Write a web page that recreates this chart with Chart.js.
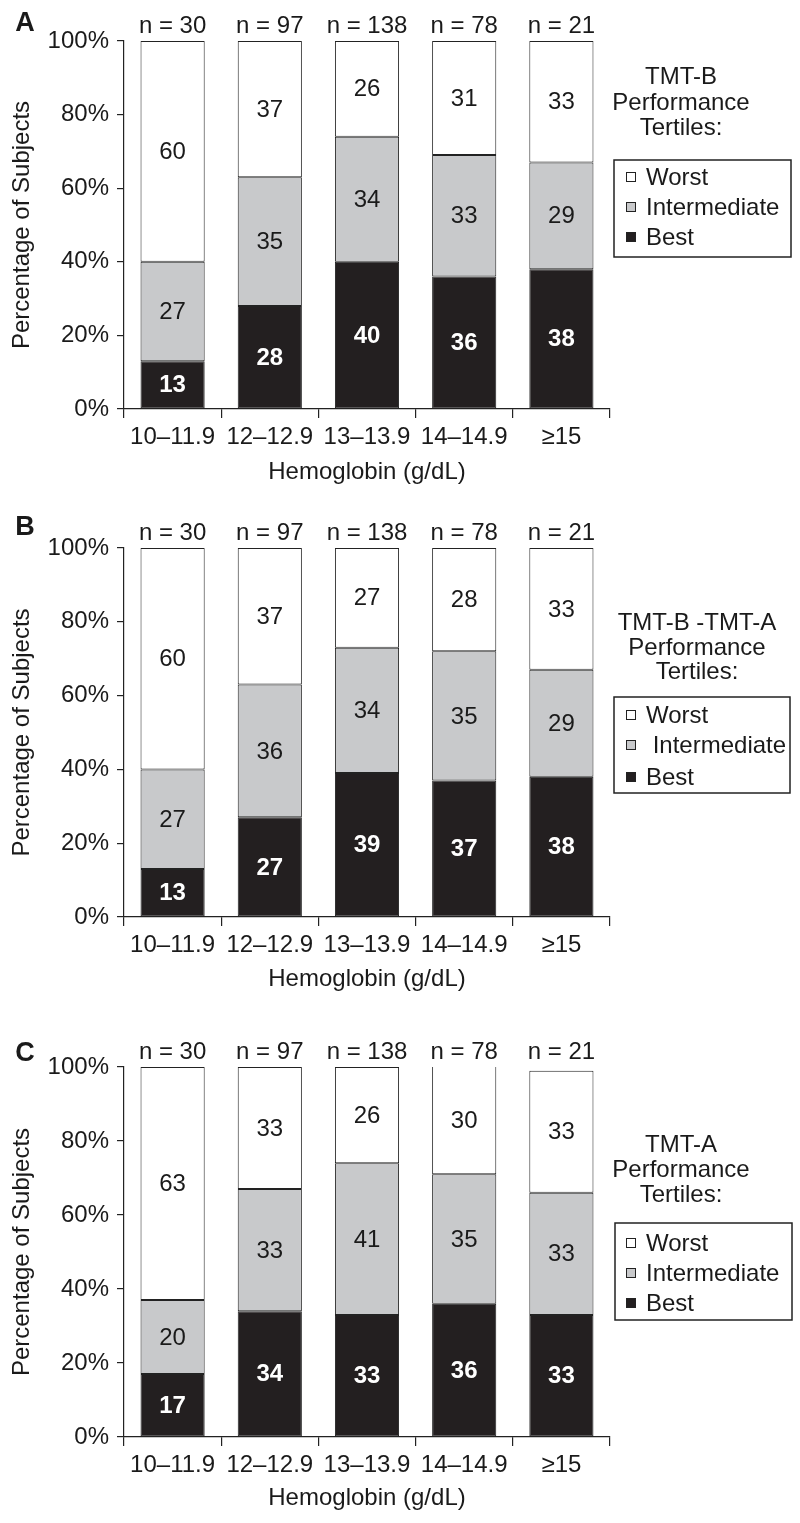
<!DOCTYPE html>
<html>
<head>
<meta charset="utf-8">
<script src="https://cdn.jsdelivr.net/npm/chart.js@4/dist/chart.umd.min.js"></script>
<style>
html, body { margin: 0; padding: 0; background: #fff; overflow: hidden; }
#wrap { position: relative; width: 800px; height: 1523px; }
canvas { position: absolute; left: 0; }
</style>
</head>
<body>
<div id="wrap">
  <canvas id="cA" width="800" height="507" style="top:0px"></canvas>
  <canvas id="cB" width="800" height="507" style="top:507px"></canvas>
  <canvas id="cC" width="800" height="507" style="top:1026px"></canvas>
</div>
<script>
// categories / sample sizes shared by all three panels
var categories = ['10\u201311.9', '12\u201312.9', '13\u201313.9', '14\u201314.9', '\u226515'];
var sampleSizes = [30, 97, 138, 78, 21];
var yTicks = [0, 20, 40, 60, 80, 100];

// panel A - TMT-B
var bestA = [13, 28, 40, 36, 38];
var interA = [27, 35, 34, 33, 29];
var worstA = [60, 37, 26, 31, 33];

// panel B - TMT-B minus TMT-A
var bestB = [13, 27, 39, 37, 38];
var interB = [27, 36, 34, 35, 29];
var worstB = [60, 37, 27, 28, 33];

// panel C - TMT-A
var bestC = [17, 34, 33, 36, 33];
var interC = [20, 33, 41, 35, 33];
var worstC = [63, 33, 26, 30, 33];

var FONT = '"Liberation Sans", Arial, Helvetica, sans-serif';
var INK = '#1a1a1a';
Chart.defaults.font.family = FONT;
Chart.defaults.font.size = 24;
Chart.defaults.color = INK;

var COL_WORST = '#ffffff', COL_INTER = '#c8c9cb', COL_BEST = '#231f20';

// draws panel letter, n = labels, numbers in bars and the boxed legend
var panelDecor = {
    id: 'panelDecor',
    afterDraw: function (chart) {
        var o = chart.options.plugins.panelDecor;
        var ctx = chart.ctx;
        var xs = chart.scales.x;
        var area = chart.chartArea;
        ctx.save();
        ctx.textAlign = 'center';
        ctx.textBaseline = 'middle';

        ctx.fillStyle = INK;
        ctx.font = 'bold 27px ' + FONT;
        ctx.fillText(o.letter, 25, o.letterY);

        ctx.font = '24px ' + FONT;
        sampleSizes.forEach(function (n, i) {
            ctx.fillText('n = ' + n, xs.getPixelForValue(i), 26);
        });

        chart.data.datasets.forEach(function (ds, di) {
            var meta = chart.getDatasetMeta(di);
            meta.data.forEach(function (bar, i) {
                var top = Math.max(bar.y, area.top);
                var mid = (top + bar.base) / 2;
                ctx.font = (ds.labelBold ? 'bold ' : '') + '24px ' + FONT;
                ctx.fillStyle = ds.labelColor;
                ctx.fillText(String(ds.data[i]), bar.x, mid + 1);
            });
        });

        // legend title
        ctx.fillStyle = INK;
        ctx.font = '24px ' + FONT;
        o.title.forEach(function (t, k) {
            ctx.fillText(t, o.titleX, o.titleY[k]);
        });
        // legend box
        ctx.strokeStyle = '#222';
        ctx.lineWidth = 1.5;
        ctx.strokeRect(o.box[0], o.box[1], o.box[2], o.box[3]);
        var order = [2, 1, 0];
        ctx.textAlign = 'left';
        order.forEach(function (di, k) {
            var ds = chart.data.datasets[di];
            var y = o.itemY[k];
            ctx.fillStyle = ds.backgroundColor;
            ctx.fillRect(626, y - 5, 10, 10);
            ctx.lineWidth = 1;
            ctx.strokeRect(626.5, y - 4.5, 9, 9);
            ctx.fillStyle = INK;
            ctx.fillText(o.names[k], 646, y + 1);
        });
        ctx.restore();
    }
};

function makePanel(id, best, inter, worst, cfg) {
    return new Chart(document.getElementById(id), {
        type: 'bar',
        data: {
            labels: categories,
            datasets: [
                { label: 'Best', data: best, backgroundColor: COL_BEST, labelColor: '#ffffff', labelBold: true },
                { label: 'Intermediate', data: inter, backgroundColor: COL_INTER, labelColor: INK, labelBold: false },
                { label: 'Worst', data: worst, backgroundColor: COL_WORST, labelColor: INK, labelBold: false }
            ]
        },
        options: {
            responsive: false,
            animation: false,
            devicePixelRatio: 1,
            layout: { padding: { top: 41, right: 190, left: 0, bottom: 0 } },
            datasets: {
                bar: {
                    barPercentage: 0.66,
                    categoryPercentage: 1,
                    borderColor: '#222',
                    borderWidth: 1,
                    borderSkipped: false,
                    clip: 0
                }
            },
            plugins: {
                legend: { display: false },
                tooltip: { enabled: false },
                panelDecor: cfg
            },
            scales: {
                x: {
                    stacked: true,
                    offset: true,
                    grid: { offset: true, drawOnChartArea: false, tickLength: 9, color: '#222', lineWidth: 1.2 },
                    border: { color: '#222', width: 1.2 },
                    ticks: { padding: 5, maxRotation: 0, autoSkip: false, color: INK },
                    title: { display: true, text: 'Hemoglobin (g/dL)', color: INK, padding: { top: 4, bottom: 20 } },
                    afterFit: function (s) { s.height = cfg.xHeight; }
                },
                y: {
                    stacked: true,
                    min: 0,
                    max: 100,
                    afterBuildTicks: function (s) { s.ticks = yTicks.map(function (v) { return { value: v }; }); },
                    ticks: { padding: 8, color: INK, callback: function (v) { return v + '%'; } },
                    grid: { drawOnChartArea: false, tickLength: 7, color: '#222', lineWidth: 1.2 },
                    border: { color: '#222', width: 1.2 },
                    title: { display: true, text: 'Percentage of Subjects', color: INK, padding: { top: 8, bottom: 4 } },
                    afterFit: function (s) { s.width = 124; }
                }
            }
        },
        plugins: [panelDecor]
    });
}

makePanel('cA', bestA, interA, worstA, {
    letter: 'A', letterY: 24, xHeight: 98,
    title: ['TMT-B', 'Performance', 'Tertiles:'], titleX: 681, titleY: [77, 103, 128],
    box: [614, 160, 177, 97], itemY: [177, 207, 237],
    names: ['Worst', 'Intermediate', 'Best']
});
makePanel('cB', bestB, interB, worstB, {
    letter: 'B', letterY: 21, xHeight: 97,
    title: ['TMT-B -TMT-A', 'Performance', 'Tertiles:'], titleX: 697, titleY: [116, 141, 165],
    box: [614, 190, 176, 96], itemY: [208, 238, 270],
    names: ['Worst', ' Intermediate', 'Best']
});
makePanel('cC', bestC, interC, worstC, {
    letter: 'C', letterY: 28, xHeight: 96,
    title: ['TMT-A', 'Performance', 'Tertiles:'], titleX: 681, titleY: [119, 144, 169],
    box: [615, 197, 177, 97], itemY: [217, 247, 277],
    names: ['Worst', 'Intermediate', 'Best']
});
</script>
</body>
</html>
